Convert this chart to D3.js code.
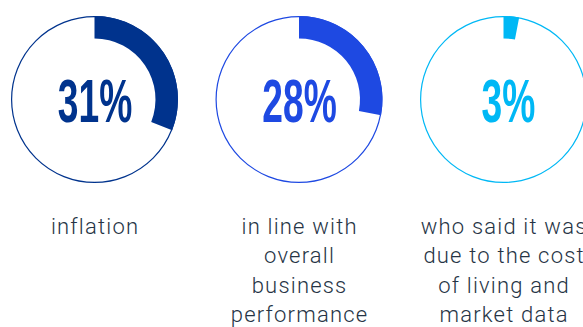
<!DOCTYPE html>
<html><head><meta charset="utf-8">
<script src="https://cdn.jsdelivr.net/npm/d3@7"></script>
<style>html,body{margin:0;padding:0;background:#fff;overflow:hidden}</style>
</head><body>
<svg id="chart" width="583" height="327"></svg>
<script>
const categories = ["inflation", "in line with|overall|business|performance", "who said it was|due to the cost|of living and|market data"];
const values = [31, 28, 3];
const colors = ["#00338D", "#1E49E2", "#00B8F5"];

const svg = d3.select("#chart");
const cx0 = 94.5, step = 204.5, cy = 99.5;
const rOuter = 83.5, rInner = 61;
const x = d3.scaleLinear().domain([0, 100]).range([0, 2 * Math.PI]);
const arc = d3.arc().innerRadius(rInner).outerRadius(rOuter).startAngle(0);

const g = svg.selectAll("g.item").data(values).join("g")
  .attr("class", "item")
  .attr("transform", (d, i) => `translate(${cx0 + i * step},${cy})`);

g.append("circle").attr("r", rOuter - 0.6).attr("fill", "none")
  .attr("stroke", (d, i) => colors[i]).attr("stroke-width", 1.2);

g.append("path").attr("d", d => arc({endAngle: x(d)})).attr("fill", (d, i) => colors[i]);

g.append("text")
  .attr("text-anchor", "middle")
  .attr("transform", (d, i) => `translate(${i === 2 ? 5 : 0.5},22.3) scale(0.6,1)`)
  .attr("font-family", "'Liberation Sans', Arial, sans-serif")
  .attr("font-weight", "bold")
  .attr("font-size", 62)
  .attr("fill", (d, i) => colors[i])
  .text(d => d + "%");

const lab = g.append("text")
  .attr("text-anchor", "middle")
  .attr("font-family", "Roboto, 'Noto Sans', sans-serif")
  .attr("font-weight", 300)
  .attr("font-size", 22)
  .attr("letter-spacing", 1.2)
  .attr("fill", "#263445");
lab.selectAll("tspan").data((d, i) => categories[i].split("|")).join("tspan")
  .attr("x", 0.6)
  .attr("y", (t, j) => 134 + j * 29.5)
  .text(t => t);
</script>
</body></html>
